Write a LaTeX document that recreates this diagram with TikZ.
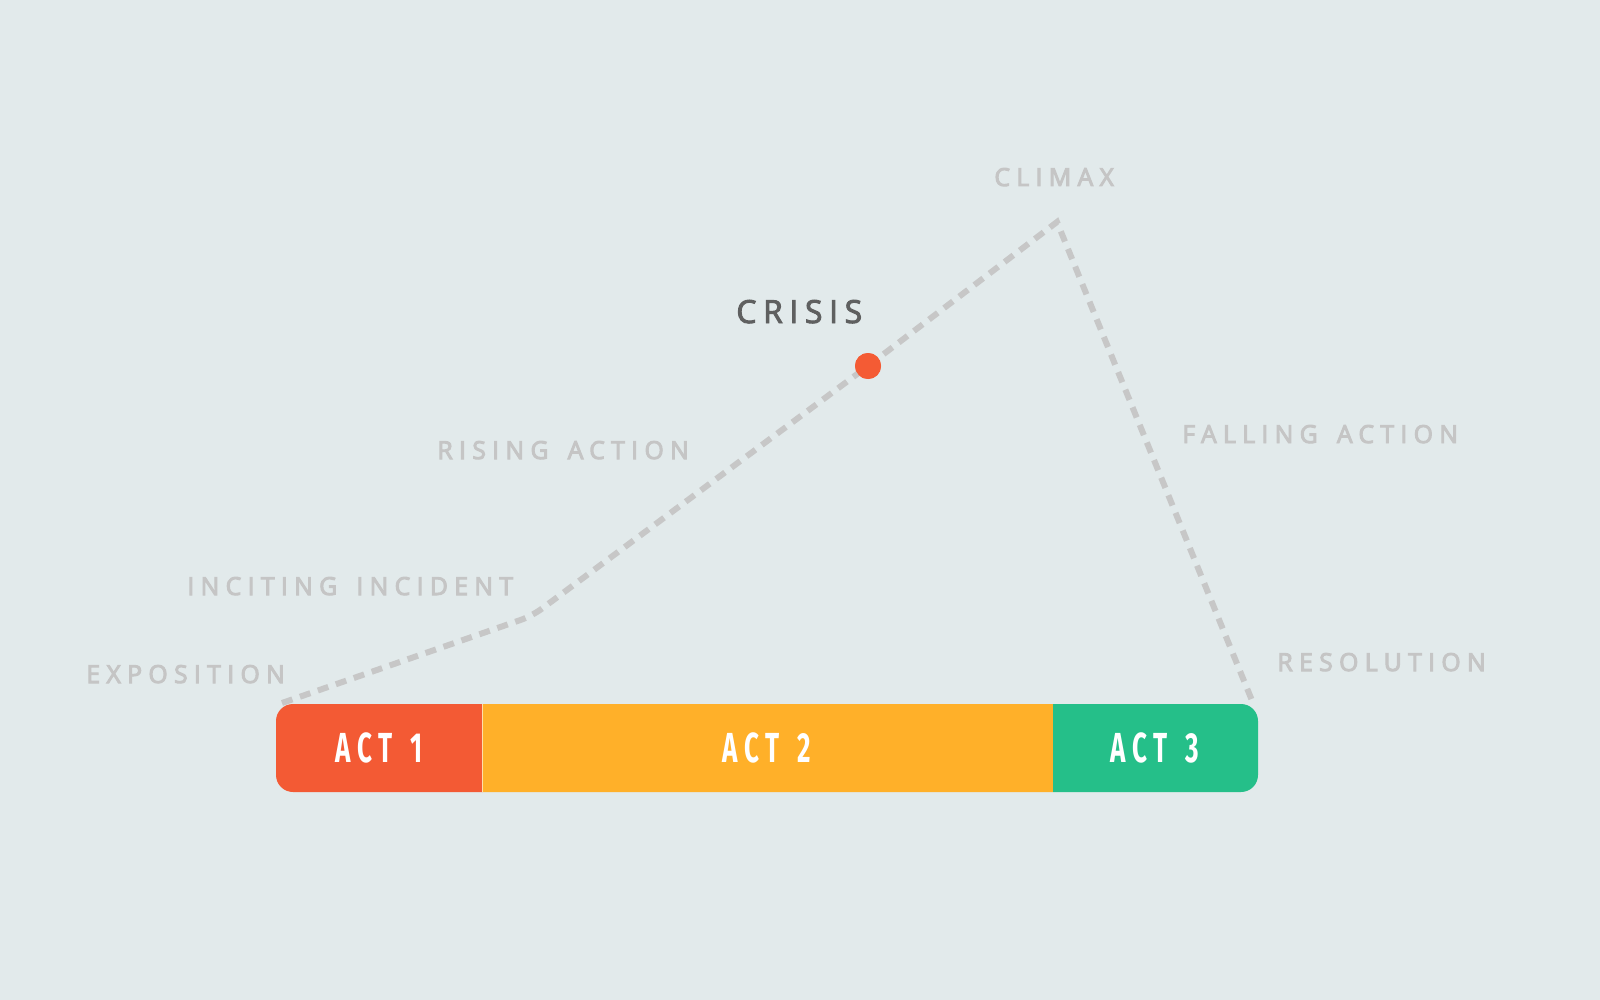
\documentclass[tikz,border=0pt]{standalone}
\usepackage{fontspec}
\setmainfont{Open Sans}
\newfontfamily\labfont[LetterSpace=25.5,FakeBold=4,WordSpace=1.5]{Open Sans}
\newfontfamily\crisfont[LetterSpace=21,FakeBold=3]{Open Sans}
\newfontfamily\actfont[FakeStretch=0.62,LetterSpace=16,WordSpace=1.4]{Fira Sans Bold}
\definecolor{bg}{HTML}{E2EAEB}
\definecolor{actone}{HTML}{F35A34}
\definecolor{acttwo}{HTML}{FFB029}
\definecolor{actthree}{HTML}{25BF89}
\definecolor{dotc}{HTML}{F45B34}
\definecolor{labgray}{HTML}{C5C5C5}
\definecolor{crisgray}{HTML}{5F6060}
\definecolor{dashgray}{HTML}{C7C7C7}
\begin{document}
\begin{tikzpicture}[x=0.5pt,y=-0.5pt,
  lab/.style={text=labgray,font=\labfont\fontsize{12.4}{14}\selectfont,anchor=base west,inner sep=0pt},
  actlab/.style={text=white,font=\actfont\fontsize{21}{24}\selectfont,inner sep=0pt},
  dashline/.style={draw=dashgray,line width=3pt,dash pattern=on 5.5pt off 4pt,rounded corners=6pt},
  crisisdot/.style={circle,fill=dotc,minimum size=13pt,inner sep=0pt}]
\useasboundingbox (0,0) rectangle (1600,1000);
\fill[bg] (0,0) rectangle (1600,1000);
% bar
\begin{scope}
\clip[rounded corners=8.5pt] (276,704) rectangle (1258,792);
\fill[actone] (270,700) rectangle (483,796);
\fill[acttwo] (483,700) rectangle (1053,796);
\fill[actthree] (1053,700) rectangle (1264,796);
\draw[line width=0.6pt,draw=white!60!acttwo] (482.5,700) -- (482.5,796);
\end{scope}
\node[actlab] (act1) at (379,748) {ACT 1};
\node[actlab] (act2) at (767,748) {ACT 2};
\node[actlab] (act3) at (1155,748) {ACT 3};
% path
\coordinate (p0) at (282,703);
\coordinate (p1) at (532,616);
\coordinate (p3) at (1057,222);
\coordinate (p4) at (1253,703);
\node[crisisdot] (dot) at (868,366) {};
\draw[dashline] (p0) -- (p1) -- (dot.center) [sharp corners] -- (p3) -- (p4);
\node[crisisdot] at (868,366) {};
% labels
\node[lab] (climax) at (994,186) {CLIMAX};
\node[text=crisgray,font=\crisfont\fontsize{15.9}{18}\selectfont,anchor=base west,inner sep=0pt] (crisis) at (736,323) {CRISIS};
\node[lab] (rising) at (437,459) {RISING ACTION};
\node[lab] (inciting) at (187,595) {INCITING INCIDENT};
\node[lab] (expo) at (86,683) {EXPOSITION};
\node[lab] (falling) at (1182,443) {FALLING ACTION};
\node[lab] (resol) at (1277,671) {RESOLUTION};
\end{tikzpicture}
\end{document}
